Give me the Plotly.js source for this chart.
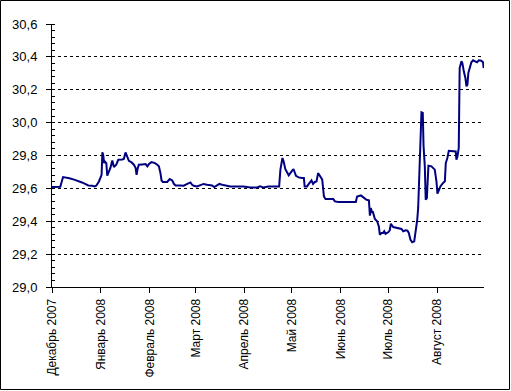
<!DOCTYPE html>
<html>
<head>
<meta charset="utf-8">
<script src="https://cdn.plot.ly/plotly-3.0.1.min.js"></script>
<style>
html,body{margin:0;padding:0;background:#fff;}
#chart{width:511px;height:391px;}
</style>
</head>
<body>
<div id="chart"></div>
<script>
const dates = [
'2007-12-01','2007-12-06 06:00','2007-12-08','2007-12-10','2007-12-12','2007-12-15','2007-12-19','2007-12-20','2007-12-22','2007-12-24',
'2007-12-26 12:00','2007-12-28','2007-12-29','2007-12-30 18:00','2008-01-01 10:00','2008-01-01 22:00','2008-01-02 12:00','2008-01-03','2008-01-03 12:00','2008-01-04 10:00',
'2008-01-05','2008-01-06','2008-01-07','2008-01-08 05:00','2008-01-09 05:00','2008-01-10 17:00','2008-01-12','2008-01-14 12:00','2008-01-15 12:00','2008-01-16 14:00',
'2008-01-17 17:00','2008-01-18 17:00','2008-01-20 10:00','2008-01-21 22:00','2008-01-23','2008-01-23 14:00','2008-01-24 05:00','2008-01-25','2008-01-27 05:00','2008-01-29 07:00',
'2008-01-30 10:00','2008-01-31 10:00','2008-02-02 02:00','2008-02-04 05:00','2008-02-05 17:00','2008-02-06 17:00','2008-02-07 17:00','2008-02-08 10:00','2008-02-09 05:00','2008-02-12',
'2008-02-13 14:00','2008-02-15 05:00','2008-02-16 05:00','2008-02-17 07:00','2008-02-20 10:00','2008-02-22 12:00','2008-02-24 17:00','2008-02-26 17:00','2008-02-27 19:00','2008-02-28 19:00',
'2008-03-01 22:00','2008-03-04','2008-03-06','2008-03-08 05:00','2008-03-11 10:00','2008-03-12 19:00','2008-03-16 02:00','2008-03-18 14:00','2008-03-22 22:00','2008-03-31 07:00',
'2008-04-04 19:00','2008-04-08 22:00','2008-04-10 19:00','2008-04-12 22:00','2008-04-16','2008-04-22 22:00','2008-04-23 17:00','2008-04-25','2008-04-25 19:00','2008-04-26 19:00',
'2008-04-28','2008-04-29','2008-04-30 14:00','2008-05-02','2008-05-03 14:00','2008-05-05 07:00','2008-05-07 10:00','2008-05-08 14:00','2008-05-09 02:00','2008-05-10 14:00',
'2008-05-11 17:00','2008-05-13 10:00','2008-05-14 10:00','2008-05-15 12:00','2008-05-16 14:00','2008-05-17 14:00','2008-05-18 17:00','2008-05-20 05:00','2008-05-21 07:00','2008-05-22 07:00',
'2008-05-27 05:00','2008-05-28 07:00','2008-05-30 10:00','2008-06-10 12:00','2008-06-11 07:00','2008-06-13 17:00','2008-06-15 02:00','2008-06-17 07:00','2008-06-18 19:00','2008-06-19 10:00',
'2008-06-20','2008-06-20 22:00','2008-06-21 05:00','2008-06-22 05:00','2008-06-22 14:00','2008-06-24','2008-06-25 02:00','2008-06-25 17:00','2008-06-26 19:00','2008-06-27 19:00',
'2008-06-28 12:00','2008-06-29 07:00','2008-07-01','2008-07-02','2008-07-02 17:00','2008-07-04 05:00','2008-07-07 07:00','2008-07-09 10:00','2008-07-10 12:00','2008-07-12',
'2008-07-13 05:00','2008-07-14 02:00','2008-07-15 02:00','2008-07-16 05:00','2008-07-17 12:00','2008-07-18 07:00','2008-07-19 10:00','2008-07-20','2008-07-20 10:00','2008-07-21',
'2008-07-21 17:00','2008-07-22 02:00','2008-07-22 22:00','2008-07-23 10:00','2008-07-24 05:00','2008-07-24 19:00','2008-07-25 12:00','2008-07-25 22:00','2008-07-26 12:00','2008-07-28 10:00',
'2008-07-29 12:00','2008-07-30 12:00','2008-07-31 14:00','2008-08-01 05:00','2008-08-02 02:00','2008-08-03 02:00','2008-08-04 10:00','2008-08-05 22:00','2008-08-06 12:00','2008-08-07 12:00',
'2008-08-08 10:00','2008-08-11 02:00','2008-08-12 19:00','2008-08-13 05:00','2008-08-13 22:00','2008-08-14 17:00','2008-08-15 07:00','2008-08-16 10:00','2008-08-17','2008-08-17 22:00',
'2008-08-18 22:00','2008-08-19 14:00','2008-08-20 05:00','2008-08-20 19:00','2008-08-21 17:00','2008-08-22 17:00','2008-08-23 19:00','2008-08-25 07:00','2008-08-26 07:00','2008-08-27 10:00',
'2008-08-29','2008-08-30 02:00','2008-08-30 12:00'
];
const rates = [
29.608,29.610,29.669,29.666,29.662,29.653,29.642,29.636,29.627,29.618,
29.616,29.612,29.616,29.642,29.683,29.819,29.800,29.754,29.764,29.754,
29.677,29.703,29.724,29.770,29.730,29.744,29.774,29.776,29.779,29.819,
29.795,29.768,29.758,29.744,29.724,29.683,29.718,29.744,29.746,29.748,
29.734,29.748,29.760,29.754,29.744,29.734,29.693,29.648,29.639,29.639,
29.657,29.648,29.628,29.618,29.618,29.616,29.627,29.636,29.622,29.616,
29.612,29.618,29.627,29.622,29.618,29.608,29.627,29.620,29.612,29.612,
29.606,29.606,29.612,29.606,29.612,29.612,29.714,29.785,29.764,29.718,
29.700,29.679,29.700,29.718,29.677,29.667,29.663,29.663,29.612,29.612,
29.627,29.648,29.627,29.639,29.642,29.693,29.677,29.653,29.551,29.535,
29.535,29.521,29.517,29.517,29.551,29.557,29.547,29.531,29.527,29.434,
29.480,29.450,29.460,29.430,29.414,29.400,29.369,29.318,29.329,29.329,
29.339,29.324,29.333,29.345,29.385,29.365,29.359,29.353,29.339,29.345,
29.343,29.329,29.288,29.272,29.278,29.329,29.410,29.481,29.612,29.754,
29.917,30.063,30.059,29.856,29.734,29.531,29.541,29.653,29.738,29.734,
29.724,29.714,29.643,29.568,29.588,29.612,29.629,29.643,29.754,29.785,
29.829,29.825,29.825,29.775,29.795,29.846,30.332,30.373,30.363,30.312,
30.272,30.221,30.231,30.302,30.332,30.367,30.379,30.373,30.367,30.379,
30.377,30.367,30.332
];
const tickDates = ['2007-12-01','2008-01-01','2008-02-01','2008-03-01','2008-04-01','2008-05-01','2008-06-01','2008-07-01','2008-08-01'];
const tickLabels = ['Декабрь 2007','Январь 2008','Февраль 2008','Март 2008','Апрель 2008','Май 2008','Июнь 2008','Июль 2008','Август 2008'];

const yFont = {family: 'Arial, "Liberation Sans", sans-serif', size: 13, color: '#000'};
const xFont = {family: 'Arial, "Liberation Sans", sans-serif', size: 12, color: '#000'};

const trace = {
  x: dates, y: rates, type: 'scatter', mode: 'lines',
  line: {color: '#000080', width: 2}, hoverinfo: 'skip'
};

const layout = {
  width: 511, height: 391,
  margin: {l: 52, r: 27, t: 24, b: 104, pad: 0},
  paper_bgcolor: '#fff', plot_bgcolor: '#fff',
  separators: ', ',
  showlegend: false,
  font: yFont,
  xaxis: {
    type: 'date',
    range: ['2007-12-01', '2008-08-30 17:00'],
    tickmode: 'array', tickvals: tickDates, ticktext: tickLabels,
    tickangle: -90, ticks: 'outside', ticklen: 5, tickcolor: '#000', tickwidth: 1,
    ticklabelstandoff: 1,
    showline: true, linecolor: '#000', linewidth: 1,
    showgrid: false, zeroline: false, tickfont: xFont, fixedrange: true
  },
  yaxis: {
    range: [29, 30.6001],
    tick0: 29, dtick: 0.2, tickformat: '.1f',
    ticks: 'outside', ticklen: 5, tickcolor: '#000', tickwidth: 1,
    ticklabelstandoff: 6,
    showline: true, linecolor: '#000', linewidth: 1,
    showgrid: true, gridcolor: '#000', gridwidth: 1, griddash: '3px,3px',
    zeroline: false, tickfont: yFont, fixedrange: true,
    minor: {dtick: 0.04, ticks: 'inside', ticklen: 3, tickcolor: '#000', tickwidth: 1, showgrid: false}
  },
  shapes: [{
    type: 'rect', xref: 'paper', yref: 'paper',
    x0: (0.5 - 52) / 432, x1: (509.5 - 52) / 432,
    y0: (287 - 389.5) / 263, y1: (287 - 0.5) / 263,
    line: {color: '#000', width: 1}, fillcolor: 'rgba(0,0,0,0)', layer: 'above'
  }]
};

Plotly.newPlot('chart', [trace], layout, {staticPlot: true, displayModeBar: false});
</script>
</body>
</html>
